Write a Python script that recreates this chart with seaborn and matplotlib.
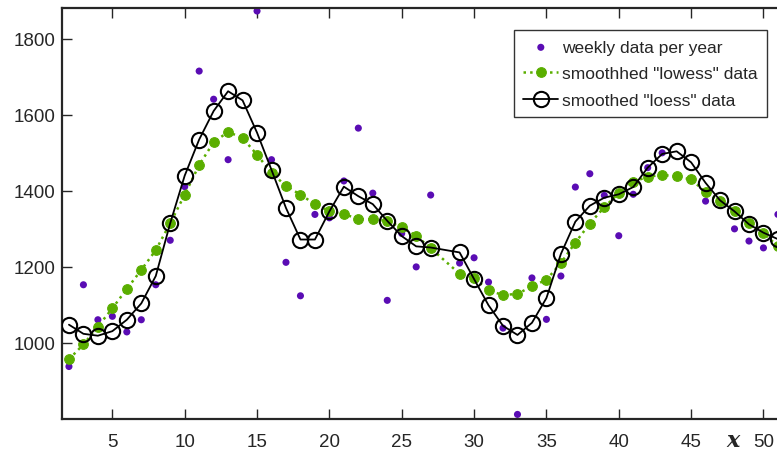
import matplotlib
matplotlib.use("Agg")
import matplotlib.pyplot as plt
import matplotlib.transforms as mtransforms
import seaborn as sns
import pandas as pd

# weeks (week 28 has no data)
weeks = list(range(2, 28)) + list(range(29, 52))

weekly = [938, 1153, 1061, 1070, 1029, 1061, 1153, 1270, 1411, 1715,
          1641, 1482, 1539, 1873, 1482, 1212, 1124, 1338, 1329, 1426,
          1565, 1394, 1112, 1288, 1200, 1389,
          1210, 1224, 1160, 1039, 812, 1171, 1062, 1176, 1410, 1445,
          1388, 1282, 1391, 1461, 1500, 1438, 1430, 1373, 1372, 1300,
          1268, 1250, 1338]

lowess = [957, 996, 1043, 1091, 1142, 1192, 1244, 1315, 1390, 1468,
          1528, 1555, 1539, 1495, 1447, 1413, 1390, 1365, 1347, 1339,
          1326, 1325, 1321, 1304, 1282, 1249,
          1182, 1171, 1138, 1126, 1129, 1149, 1166, 1210, 1264, 1314,
          1357, 1394, 1424, 1437, 1442, 1438, 1430, 1397, 1372, 1348,
          1316, 1289, 1254]

loess = [1048, 1024, 1019, 1031, 1061, 1104, 1176, 1315, 1440, 1535,
         1610, 1662, 1638, 1553, 1455, 1355, 1272, 1272, 1346, 1411,
         1386, 1365, 1321, 1281, 1254, 1251,
         1238, 1168, 1099, 1045, 1021, 1053, 1118, 1234, 1319, 1361,
         1382, 1391, 1410, 1461, 1497, 1504, 1475, 1421, 1375, 1346,
         1312, 1290, 1273]

xticks = [5, 10, 15, 20, 25, 30, 35, 40, 45, 50]
yticks = [1000, 1200, 1400, 1600, 1800]

df = pd.DataFrame({"week": weeks, "weekly": weekly, "lowess": lowess, "loess": loess})

sns.set_style("ticks")
plt.rcParams["font.family"] = ["Liberation Sans", "DejaVu Sans"]

fig = plt.figure(figsize=(7.77, 4.6), dpi=100)
ax = fig.add_axes([0.0798, 0.087, 0.940, 0.8935])

purple = "#5a0cb4"
green = "#5aae00"

sns.scatterplot(data=df, x="week", y="weekly", ax=ax, color=purple, s=26,
                edgecolor="none", label="weekly data per year", zorder=2)
sns.lineplot(data=df, x="week", y="lowess", ax=ax, color=green, linestyle=":",
             linewidth=1.8, marker="o", markersize=7, markeredgecolor=green,
             label='smoothhed "lowess" data', zorder=3)
sns.lineplot(data=df, x="week", y="loess", ax=ax, color="black", linewidth=1.3,
             marker="o", markersize=11, markerfacecolor="none",
             markeredgecolor="black", markeredgewidth=1.5,
             label='smoothed "loess" data', zorder=4)

ax.set_xlim(1.52, 52)
ax.set_ylim(800, 1881)
ax.set_xticks(xticks)
ax.set_yticks(yticks)
ax.set_xlabel("")
ax.set_ylabel("")
ax.tick_params(direction="in", length=7, width=1, top=True, right=True,
               labelsize=13.5, labelcolor="#262626", colors="#262626")
ax.tick_params(axis="x", pad=10)
ax.tick_params(axis="y", pad=5)
for s in ax.spines.values():
    s.set_linewidth(1.6)
    s.set_color("#262626")

trans = mtransforms.blended_transform_factory(ax.transData, ax.transAxes)
ax.text(47.9, -0.052, "x", transform=trans, ha="center", va="center",
        fontsize=16, fontstyle="italic", fontweight="bold",
        family=["DejaVu Serif"])

leg = ax.legend(loc="upper right", bbox_to_anchor=(0.965, 0.946),
                borderaxespad=0, fancybox=False, edgecolor="#333333",
                fontsize=12.5, handlelength=2.0, handletextpad=0.2,
                labelspacing=0.65, borderpad=0.55, framealpha=1)
leg.get_frame().set_linewidth(1.0)

fig.savefig("out.png", dpi=100)
